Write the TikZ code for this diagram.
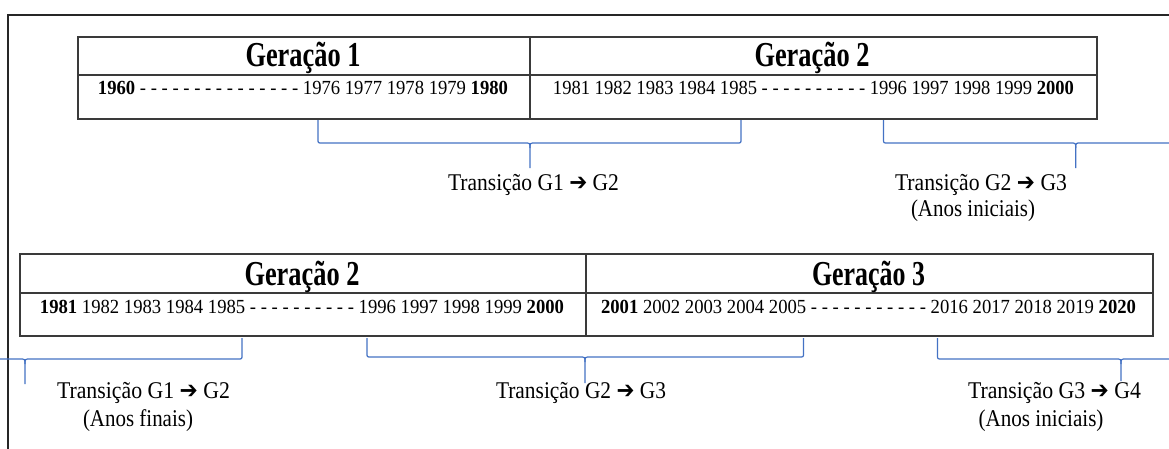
\documentclass[tikz,border=0pt]{standalone}
\usepackage{fontspec}
\setmainfont{Liberation Serif}
\newfontfamily\arrowfont{DejaVu Sans}
\usepackage{graphicx}
\definecolor{wordblue}{HTML}{4472C4}
\definecolor{tabline}{HTML}{3A3A3A}
\newcommand\fitw[2]{\resizebox{#1pt}{\height}{#2}}
\newcommand\arr{{\arrowfont\bfseries ➔}}
% Word-style curly brace: left x, right x, tip x, top y, horizontal y, tip y (y downwards)
\newcommand\wbrace[6]{%
  \draw[brc] (#1,-#4) -- (#1,-#5+4) .. controls (#1,-#5) .. (#1+4,-#5) -- (#3-5,-#5) .. controls (#3,-#5) .. (#3,-#5-5) -- (#3,-#6);
  \draw[brc] (#2,-#4) -- (#2,-#5+4) .. controls (#2,-#5) .. (#2-4,-#5) -- (#3+5,-#5) .. controls (#3,-#5) .. (#3,-#5-5);
}
\tikzset{
  cellbox/.style={draw=tabline, line width=1.5pt, inner sep=0pt, anchor=north west},
  brc/.style={draw=wordblue, line width=1.2pt, line join=round},
  hdr/.style={font=\fontsize{35}{40}\selectfont\bfseries, anchor=base, inner sep=0pt},
  yrs/.style={font=\fontsize{20}{22}\selectfont, anchor=base, inner sep=0pt},
  lbl/.style={font=\fontsize{24}{28}\selectfont, anchor=base, inner sep=0pt},
}
\begin{document}
\begin{tikzpicture}[x=1pt,y=1pt]
\useasboundingbox (0,0) rectangle (1169,-448);
\clip (0,0) rectangle (1169,-448);
\fill[white] (0,0) rectangle (1169,-448);
% outer frame (continues beyond the picture)
\draw[line width=2pt, draw=black!85] (8,-1200) -- (8,-15) -- (1300,-15);

% top table
\node[cellbox, minimum width=452pt, minimum height=38pt] (g1h) at (77,-36) {};
\node[cellbox, minimum width=567pt, minimum height=38pt] (g2h) at (529,-36) {};
\node[cellbox, minimum width=452pt, minimum height=44pt] (g1r) at (77,-74) {};
\node[cellbox, minimum width=567pt, minimum height=44pt] (g2r) at (529,-74) {};

\node[hdr] (t1) at (303,-66.5) {\fitw{115}{Geração 1}};
\node[hdr] (t2) at (812,-66.5) {\fitw{115}{Geração 2}};
\node[yrs] (y1) at (303,-94.7) {\fitw{410}{\textbf{1960} - - - - - - - - - - - - - - - 1976 1977 1978 1979 \textbf{1980}}};
\node[yrs] (y2) at (813.5,-94.7) {\fitw{521}{1981 1982 1983 1984 1985 - - - - - - - - - - 1996 1997 1998 1999 \textbf{2000}}};

% bottom table
\node[cellbox, minimum width=566pt, minimum height=39pt] (b2h) at (19,-253) {};
\node[cellbox, minimum width=567pt, minimum height=39pt] (b3h) at (585,-253) {};
\node[cellbox, minimum width=566pt, minimum height=43pt] (b2r) at (19,-292) {};
\node[cellbox, minimum width=567pt, minimum height=43pt] (b3r) at (585,-292) {};

\node[hdr] (t3) at (302,-285) {\fitw{115}{Geração 2}};
\node[hdr] (t4) at (868.5,-285) {\fitw{113}{Geração 3}};
\node[yrs] (y3) at (302,-313) {\fitw{524}{\textbf{1981} 1982 1983 1984 1985 - - - - - - - - - - 1996 1997 1998 1999 \textbf{2000}}};
\node[yrs] (y4) at (868.5,-313) {\fitw{535}{\textbf{2001} 2002 2003 2004 2005 - - - - - - - - - - - 2016 2017 2018 2019 \textbf{2020}}};

% braces
\wbrace{318}{741}{530}{120}{143}{168}
\wbrace{883.5}{1268}{1075.7}{120}{143}{168}
\wbrace{-192}{242}{25}{338}{359}{384}
\wbrace{367}{803.5}{585}{338}{357}{383}
\wbrace{937.5}{1305}{1121}{338}{359}{381}

% labels
\node[lbl] (l1) at (533.5,-190) {\fitw{171}{Transição G1 \arr{} G2}};
\node[lbl] (l2) at (981,-190) {\fitw{172}{Transição G2 \arr{} G3}};
\node[lbl] (l2b) at (973,-216) {\fitw{124}{(Anos iniciais)}};
\node[lbl] (l3) at (143.5,-398) {\fitw{173}{Transição G1 \arr{} G2}};
\node[lbl] (l3b) at (138,-426) {\fitw{110}{(Anos finais)}};
\node[lbl] (l4) at (581,-398) {\fitw{170}{Transição G2 \arr{} G3}};
\node[lbl] (l5) at (1054.5,-398) {\fitw{173}{Transição G3 \arr{} G4}};
\node[lbl] (l5b) at (1041,-426) {\fitw{125}{(Anos iniciais)}};
\end{tikzpicture}
\end{document}
